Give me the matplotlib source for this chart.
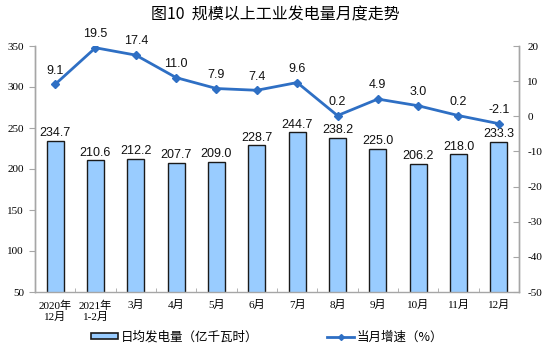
import matplotlib
matplotlib.use('Agg')
import matplotlib.pyplot as plt
from matplotlib.patches import Patch
from matplotlib.lines import Line2D
import numpy as np

plt.rcParams['axes.unicode_minus'] = False

# Monthly figures
months = ['2020年\n12月', '2021年\n1-2月', '3月', '4月', '5月', '6月',
          '7月', '8月', '9月', '10月', '11月', '12月']
daily_output = [234.7, 210.6, 212.2, 207.7, 209.0, 228.7,
                244.7, 238.2, 225.0, 206.2, 218.0, 233.3]
growth_rate = [9.1, 19.5, 17.4, 11.0, 7.9, 7.4,
               9.6, 0.2, 4.9, 3.0, 0.2, -2.1]

BAR_FACE = '#99CCFF'
BAR_EDGE = '#1A1A1A'
LINE_COLOR = '#2E6FC4'
AXIS_GRAY = '#A6A6A6'

CJK = ['Noto Sans CJK SC', 'DejaVu Sans']
SERIF_CJK = ['Liberation Serif', 'Noto Sans CJK SC']
SANS = ['Liberation Sans', 'DejaVu Sans']

fig = plt.figure(figsize=(5.5, 3.5), dpi=100)
ax = fig.add_axes([35 / 550, 1 - 292 / 350, 484 / 550, 246 / 350])
ax2 = ax.twinx()

x = np.arange(len(months))
ax.bar(x, daily_output, width=0.42, color=BAR_FACE, edgecolor=BAR_EDGE,
       linewidth=1.0, bottom=0, zorder=2)
for xi, v in zip(x, daily_output):
    ax.text(xi, v + 2, f'{v:.1f}', ha='center', va='bottom',
            fontsize=9, family=SANS, color='#111111')

ax2.plot(x, growth_rate, color=LINE_COLOR, linewidth=2.0, marker='D',
         markersize=4, zorder=3)
for xi, v in zip(x, growth_rate):
    ax2.text(xi, v + 2.2, f'{v:.1f}', ha='center', va='bottom',
             fontsize=9, family=SANS, color='#111111')

ax.set_xlim(-0.5, len(months) - 0.5)
ax.set_ylim(50, 350)
ax.set_yticks(range(50, 351, 50))
ax2.set_ylim(-50, 20)
ax2.set_yticks(range(-50, 21, 10))

ax.set_xticks(x)
ax.set_xticklabels(months, family=SERIF_CJK, fontsize=8)
ax.set_xticks(np.arange(-0.5, len(months), 1), minor=True)
ax.tick_params(axis='x', which='major', length=0, pad=6)
ax.tick_params(axis='x', which='minor', direction='in', length=3, color=AXIS_GRAY)
ax.tick_params(axis='y', direction='out', length=4, color=AXIS_GRAY,
               labelsize=8, pad=4)
ax2.tick_params(axis='y', direction='in', length=4, color=AXIS_GRAY,
                labelsize=8, pad=6)
for lbl in ax.get_yticklabels() + ax2.get_yticklabels():
    lbl.set_family('Liberation Serif')

for a in (ax, ax2):
    a.spines['top'].set_visible(False)
    for side in ('left', 'right', 'bottom'):
        a.spines[side].set_color(AXIS_GRAY)
        a.spines[side].set_linewidth(1.0)
ax2.spines['bottom'].set_visible(False)

fig.text(0.5, 1 - 15 / 350, '图10  规模以上工业发电量月度走势', ha='center',
         va='center', fontsize=11.5, family=CJK)

handles = [Patch(facecolor=BAR_FACE, edgecolor=BAR_EDGE, linewidth=1.2),
           Line2D([], [], color=LINE_COLOR, linewidth=2.0, marker='D', markersize=3)]
fig.legend(handles, ['日均发电量（亿千瓦时）', '当月增速（%）'],
           loc='center', bbox_to_anchor=(267 / 550, 1 - 337 / 350), ncol=2,
           frameon=False, prop={'family': CJK, 'size': 9},
           handlelength=2.2, handleheight=0.45, columnspacing=5.5,
           handletextpad=0.2)

fig.savefig('out.png', dpi=100)
